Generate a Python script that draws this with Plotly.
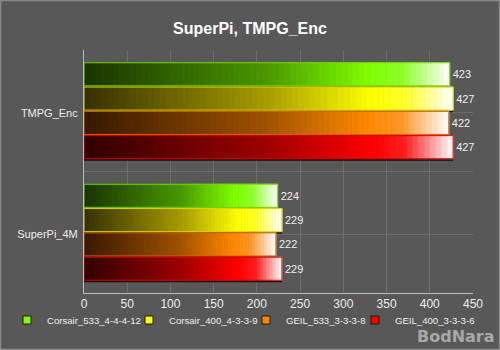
import plotly.graph_objects as go

# ---- data ----
categories = ["TMPG_Enc", "SuperPi_4M"]
series_names = ["Corsair_533_4-4-4-12", "Corsair_400_4-3-3-9", "GEIL_533_3-3-3-8", "GEIL_400_3-3-3-6"]
corsair_533 = [423, 224]
corsair_400 = [427, 229]
geil_533 = [422, 222]
geil_400 = [427, 229]
x_ticks = [0, 50, 100, 150, 200, 250, 300, 350, 400, 450]
title_text = "SuperPi, TMPG_Enc"

series_values = [corsair_533, corsair_400, geil_533, geil_400]

# ---- style: horizontal gradient stops per series (fraction of bar length, rgb) ----
gradients = [
    [(0.0, (26, 51, 0)), (0.5, (74, 152, 0)), (0.78, (128, 255, 0)), (0.87, (140, 255, 40)), (1.0, (255, 255, 255))],
    [(0.0, (54, 48, 0)), (0.5, (168, 158, 0)), (0.78, (255, 255, 0)), (0.87, (255, 255, 40)), (1.0, (255, 255, 255))],
    [(0.0, (54, 24, 0)), (0.5, (160, 82, 0)), (0.78, (255, 136, 0)), (0.87, (255, 150, 40)), (1.0, (255, 255, 255))],
    [(0.0, (48, 0, 0)), (0.5, (160, 0, 0)), (0.78, (255, 0, 0)), (0.87, (255, 30, 30)), (1.0, (255, 255, 255))],
]
legend_colors = ["#80ff00", "#ffff00", "#ff8800", "#ff0000"]
edge_colors = ["#78d800", "#d8d800", "#d06800", "#e00000"]
legend_text_px = [47, 169, 286, 395]  # left edge of each legend label
N_SEG = 64
SHADOW_PX = 2
BG = "#585858"
GRID = "#6c6c6c"
TXT = "#eeeeee"


def interp(stops, t):
    for (p0, c0), (p1, c1) in zip(stops, stops[1:]):
        if p0 <= t <= p1:
            f = (t - p0) / (p1 - p0) if p1 > p0 else 0
            return "rgb(%d,%d,%d)" % tuple(round(a + (b - a) * f) for a, b in zip(c0, c1))
    return "rgb(%d,%d,%d)" % stops[-1][1]


W, H = 500, 350
ml, mr, mt, mb = 84, 27, 50, 57
pw, ph = W - ml - mr, H - mt - mb
yr = [1.5, -0.5]
shift = SHADOW_PX * (yr[0] - yr[1]) / ph

fig = go.Figure()

# drop shadows (main y axis, range shifted a couple of pixels)
for si, (name, vals) in enumerate(zip(series_names, series_values)):
    fig.add_trace(go.Bar(
        y=categories, x=vals, orientation="h", offsetgroup=name, yaxis="y",
        showlegend=False, marker=dict(color="rgba(10,10,10,0.9)", line=dict(width=0)),
        hoverinfo="skip",
    ))

# gradient segments
for si, (name, vals) in enumerate(zip(series_names, series_values)):
    for k in range(N_SEG):
        t = (k + 0.5) / N_SEG
        last = k == N_SEG - 1
        col = interp(gradients[si], t)
        fig.add_trace(go.Bar(
            y=categories,
            x=[v / N_SEG for v in vals],
            orientation="h",
            offsetgroup=name,
            yaxis="y2",
            name=name,
            showlegend=False,
            marker=dict(color=col, line=dict(width=0.8, color=col)),
            text=[str(v) for v in vals] if last else None,
            textposition="outside" if last else "none",
            textfont=dict(color=TXT, size=11, family="Liberation Sans, Arial"),
            cliponaxis=False,
            hoverinfo="skip",
        ))

# bar edges
for si, (name, vals) in enumerate(zip(series_names, series_values)):
    fig.add_trace(go.Bar(
        y=categories, x=vals, orientation="h", offsetgroup=name, yaxis="y3",
        showlegend=False, marker=dict(color="rgba(0,0,0,0)", line=dict(width=1, color=edge_colors[si])),
        hoverinfo="skip",
    ))

legends = {}
for si, name in enumerate(series_names):
    key = "legend" if si == 0 else "legend%d" % (si + 1)
    fig.add_trace(go.Scatter(
        x=[None], y=[None], mode="markers", name=name, legend=key,
        marker=dict(symbol="square", size=8, color=legend_colors[si],
                    line=dict(color="#1a1a1a", width=1)),
        hoverinfo="skip",
    ))
    legends[key] = dict(
        orientation="h", x=(legend_text_px[si] - 40 - ml) / pw, xanchor="left",
        y=-(320 - (H - mb)) / ph, yanchor="middle",
        font=dict(size=9.6, color=TXT, family="Liberation Sans, Arial"),
        bgcolor="rgba(0,0,0,0)", itemwidth=30, borderwidth=0,
    )

hidden_y = dict(overlaying="y", range=yr, categoryorder="array", categoryarray=categories,
                showgrid=False, showticklabels=False, zeroline=False, showline=False, ticks="")

fig.update_layout(
    width=W, height=H,
    margin=dict(l=ml, r=mr, t=mt, b=mb, autoexpand=False),
    paper_bgcolor=BG, plot_bgcolor=BG,
    barmode="relative",
    bargap=0.2, bargroupgap=0.05,
    title=dict(text="<b>%s</b>" % title_text, x=0.5, xanchor="center", y=1 - 28 / H, yanchor="middle",
               font=dict(size=16, color="white", family="Liberation Sans, Arial")),
    font=dict(family="Liberation Sans, Arial", color=TXT, size=11),
    xaxis=dict(range=[0, 450], tickvals=x_ticks, showgrid=True, gridcolor=GRID, gridwidth=1,
               showline=True, linecolor="#bdbdbd", linewidth=1, zeroline=False,
               ticks="", tickfont=dict(size=12, color=TXT)),
    yaxis=dict(categoryorder="array", categoryarray=categories, range=[yr[0] - shift, yr[1] - shift],
               showgrid=True, gridcolor=GRID, showline=True, linecolor="#bdbdbd", linewidth=1,
               ticks="", tickfont=dict(size=11, color=TXT), ticksuffix=" "),
    yaxis2=hidden_y,
    yaxis3=hidden_y,
    showlegend=True,
    shapes=[
        dict(type="line", xref="paper", yref="paper", x0=0, x1=1, y0=0.5, y1=0.5,
             line=dict(color=GRID, width=1), layer="below"),
        dict(type="rect", xref="paper", yref="paper",
             x0=-ml / pw + 0.5 / pw, x1=1 + mr / pw - 0.5 / pw,
             y0=-mb / ph + 0.5 / ph, y1=1 + mt / ph - 0.5 / ph,
             line=dict(color="#8a8a8a", width=1.5), layer="above"),
    ],
    annotations=[
        dict(text="<b>BodNara</b>", xref="paper", yref="paper",
             x=1 + (mr - 3) / pw, xanchor="right", y=-(mb - 2) / ph, yanchor="bottom",
             showarrow=False, font=dict(size=16, color="#a8a8a8", family="DejaVu Sans")),
    ],
    **legends,
)

fig.write_html("out.html")
